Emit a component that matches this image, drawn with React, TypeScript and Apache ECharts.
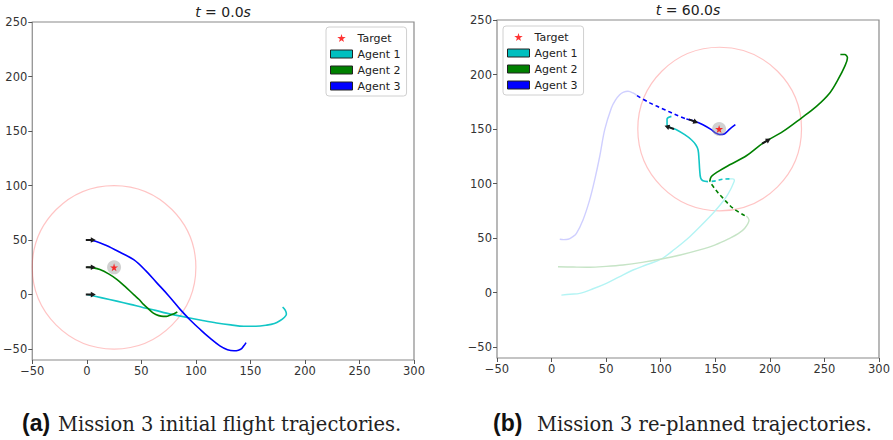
import React, { useEffect, useRef } from 'react';
import * as echarts from 'echarts';

// ---------- data ----------
const X_TICKS = [-50, 0, 50, 100, 150, 200, 250, 300];
const Y_TICKS = [-50, 0, 50, 100, 150, 200, 250];
const LEGEND_NAMES = ['Target', 'Agent 1', 'Agent 2', 'Agent 3'];
const TITLES = ['0.0', '60.0'];
const CAPTION_TAGS = ['(a)', '(b)'];
const CAPTIONS = ['Mission 3 initial flight trajectories.', 'Mission 3 re-planned trajectories.'];

// panel (a)
const TARGET_A = [[25, 25]];
const RANGE_A = [[25, 25, 75]];
const AGENT1_A = [[0, 0], [14, -3], [27.5, -6], [40, -9], [52, -12], [63, -14.5], [73, -17], [92, -21], [105, -23.5], [119, -26], [132, -27.8], [144, -29], [155, -29], [165, -28], [172, -26.5], [177, -24], [181, -21], [183, -18], [182.5, -15.5], [181, -13], [179.5, -11.5]];
const AGENT2_A = [[0, 25], [6, 24.5], [12, 23], [20, 19], [27.5, 14], [35, 7.5], [43, 0], [48, -4.5], [52, -9], [57, -13.5], [61, -17], [66, -19.3], [70, -20], [73, -20], [76, -19], [80, -17.5], [83, -16]];
const AGENT3_A = [[0, 50], [8, 49], [18, 45], [30, 39], [43, 32], [54, 22], [64, 11], [75, -1], [86, -14], [95, -23.5], [104, -32], [113, -40], [122, -47], [129, -50.5], [135, -51.5], [139, -51], [142, -49.5], [144, -47], [146, -44]];
const ARROWS_A = [[0, 0, 8, 0], [0, 25, 8, 25], [0, 50, 8, 50]];

// panel (b)
const TARGET_B = [[153.5, 150]];
const RANGE_B = [[154, 150, 75]];
const AGENT1_B_PAST = [[9, -2.3], [17, -1.5], [25.8, -0.7], [38, 3.5], [50.2, 8.5], [62, 14.5], [74.6, 20.7], [87, 25.5], [100.6, 30.8], [113, 40], [126.6, 51.3], [137, 61.5], [147.9, 72.8], [155, 81], [160.2, 88], [164, 94.5], [166.5, 100], [167.5, 103], [166, 104.3], [163, 104.3]];
const AGENT1_B_PLAN = [[163, 104.3], [157, 104], [150.6, 102.5], [145, 101.8]];
const AGENT1_B_NOW = [[143.3, 101.8], [138.7, 102.5], [136.6, 105], [135.7, 112.6], [135.1, 121.8], [134.2, 131], [132.1, 135.6], [128.1, 140.2], [122, 144.8], [114.4, 149.4], [109.8, 150.9], [105.8, 154], [105.8, 159.2], [109.8, 161.6]];
const AGENT2_B_PAST = [[5.9, 23.7], [20, 23.4], [34.9, 23.2], [50, 24], [65.4, 25.3], [83, 27.7], [100.6, 30.8], [118, 34.5], [135.7, 39.1], [150, 43.8], [163.2, 49.8], [171, 54], [177, 59], [180.9, 66.6], [178.5, 70.3]];
const AGENT2_B_PLAN = [[177, 70.6], [166.2, 77.4], [157, 86.6], [150.5, 94], [144.9, 101.8]];
const AGENT2_B_NOW = [[144.9, 101.8], [146.4, 106.4], [152.5, 111], [163.2, 117.2], [178.5, 125.5], [193.7, 137.1], [212.1, 147.8], [228.9, 160.1], [242.7, 170.8], [254.9, 183.1], [262.4, 195.3], [268.6, 207.5], [271.1, 215.3], [268.6, 218.3], [264.6, 218.3]];
const AGENT3_B_PAST = [[7.5, 48.9], [11, 48.6], [15.1, 48.9], [19, 51], [22.8, 54.4], [28.8, 66.6], [34.9, 85], [39.5, 103.4], [44.1, 124.8], [48.7, 149.4], [54.8, 169.3], [58.5, 176.5], [62.4, 181.5], [66, 183.8], [70, 184.6], [74.6, 183.1], [78.3, 180.6]];
const AGENT3_B_PLAN = [[78.3, 180.6], [90, 174], [103.7, 167.7], [114, 163], [123.5, 159.2]];
const AGENT3_B_NOW = [[123.5, 159.2], [130, 157.5], [138.7, 154], [146.4, 149.4], [150, 146.5], [154, 145], [158.6, 145.7], [163.2, 150], [168.4, 154]];
const ARROWS_B = [[126.6, 158.5, 138.7, 154], [111.3, 150.3, 105.8, 152.2], [193.7, 137.1, 212.1, 147.8]];

// ---------- styles ----------
const C1 = '#12C6C6';
const C1_LEG = '#00BFBF';
const C2 = '#008000';
const C3 = '#0000FF';
const C1_FADE = '#b4f4f4';
const C2_FADE = '#c6e4c6';
const C3_FADE = '#cfcfff';
const STAR = 'path://M50,0 L61,35 L98,35 L68,57 L79,91 L50,70 L21,91 L32,57 L2,35 L39,35 Z';
const FONT = 'DejaVu Sans';

const GRIDS = [
  { left: 32, top: 22, width: 382, height: 338 },
  { left: 497, top: 20, width: 382, height: 338 },
];

function minusFmt(v: number) {
  return String(v).replace('-', '\u2212');
}

function circleItem(params: any, api: any) {
  const c = api.coord([api.value(0), api.value(1)]);
  const s = api.size([api.value(2), api.value(2)]);
  return {
    type: 'ellipse',
    shape: { cx: c[0], cy: c[1], rx: s[0], ry: s[1] },
    style: { fill: 'none', stroke: 'rgba(255,60,60,0.3)', lineWidth: 1.2 },
  };
}

function arrowItem(params: any, api: any) {
  const p = api.coord([api.value(0), api.value(1)]);
  const q = api.coord([api.value(2), api.value(3)]);
  const a = Math.atan2(q[1] - p[1], q[0] - p[0]);
  const cs = Math.cos(a);
  const sn = Math.sin(a);
  const local = [[-1, -1], [4, -1], [4, -2.8], [9, 0], [4, 2.8], [4, 1], [-1, 1]];
  const pts = local.map(([u, v]) => [p[0] + u * cs - v * sn, p[1] + u * sn + v * cs]);
  return { type: 'polygon', shape: { points: pts }, style: { fill: '#1a1a1a' } };
}

function line(name: string, data: number[][], idx: number, color: string, opts: any = {}) {
  return {
    type: 'line',
    name,
    xAxisIndex: idx,
    yAxisIndex: idx,
    data,
    symbol: 'none',
    smooth: 0.35,
    lineStyle: { color, width: opts.width ?? 1.6, type: opts.dash ? [4, 3] : 'solid' },
    itemStyle: { color },
    z: opts.z ?? 3,
    silent: true,
  };
}

function targetSeries(idx: number, data: number[][]) {
  return [
    {
      type: 'scatter', name: 'halo', xAxisIndex: idx, yAxisIndex: idx, data,
      symbol: 'circle', symbolSize: 14, itemStyle: { color: 'rgba(150,150,150,0.55)' }, z: 6, silent: true,
    },
    {
      type: 'scatter', name: 'Target', xAxisIndex: idx, yAxisIndex: idx, data,
      symbol: STAR, symbolSize: 8, itemStyle: { color: '#ff0000' }, z: 7, silent: true,
    },
  ];
}

function legend(left: number, top: number) {
  return {
    orient: 'vertical',
    left,
    top,
    selectedMode: false,
    backgroundColor: '#ffffff',
    borderColor: '#d0d0d0',
    borderWidth: 1,
    borderRadius: 3,
    padding: [5, 6, 4, 4],
    itemWidth: 22,
    itemHeight: 8,
    itemGap: 4,
    textStyle: { fontFamily: FONT, fontSize: 11, color: '#222', lineHeight: 12 },
    data: [
      { name: LEGEND_NAMES[0], icon: STAR, itemStyle: { color: '#ff0000', borderWidth: 0 } },
      { name: LEGEND_NAMES[1], icon: 'rect', itemStyle: { color: C1_LEG, borderColor: '#222', borderWidth: 1 } },
      { name: LEGEND_NAMES[2], icon: 'rect', itemStyle: { color: C2, borderColor: '#222', borderWidth: 1 } },
      { name: LEGEND_NAMES[3], icon: 'rect', itemStyle: { color: C3, borderColor: '#222', borderWidth: 1 } },
    ],
  };
}

function xAxis(idx: number) {
  return {
    type: 'value', gridIndex: idx, min: -50, max: 300, interval: 50,
    axisLine: { show: false, onZero: false },
    axisTick: { show: true, inside: false, length: 4, lineStyle: { color: '#555' }, customValues: X_TICKS },
    axisLabel: { fontFamily: FONT, fontSize: 11.5, color: '#333', margin: 5, formatter: minusFmt, customValues: X_TICKS },
    splitLine: { show: false },
  };
}

function yAxis(idx: number) {
  return {
    type: 'value', gridIndex: idx, min: -60, max: 250,
    axisLine: { show: false, onZero: false },
    axisTick: { show: true, inside: false, length: 4, lineStyle: { color: '#555' }, customValues: Y_TICKS },
    axisLabel: { fontFamily: FONT, fontSize: 11.5, color: '#333', margin: 5, formatter: minusFmt, customValues: Y_TICKS },
    splitLine: { show: false },
  };
}

function titleText(cx: number, y: number, t: string) {
  return {
    type: 'text', x: cx, y, z: 10,
    style: {
      text: '{i|t} = ' + t + '{i|s}',
      font: `14px "${FONT}"`,
      fill: '#222',
      textAlign: 'center',
      textVerticalAlign: 'bottom',
      rich: { i: { fontStyle: 'italic', fontFamily: FONT, fontSize: 14, fill: '#222' } },
    },
  };
}

function caption(xTag: number, xText: number, tag: string, text: string) {
  return [
    {
      type: 'text', x: xTag, y: 434,
      style: { text: tag, font: 'bold 23px "Liberation Sans"', fill: '#111', textVerticalAlign: 'bottom' },
    },
    {
      type: 'text', x: xText, y: 434,
      style: { text, font: '19.5px "DejaVu Serif"', fill: '#222', textVerticalAlign: 'bottom' },
    },
  ];
}

export default function App() {
  const ref = useRef<HTMLDivElement>(null);
  useEffect(() => {
    if (!ref.current) return;
    const chart = echarts.init(ref.current, null, { renderer: 'svg' });
    const option: any = {
      animation: false,
      backgroundColor: '#ffffff',
      grid: GRIDS.map((g) => ({ ...g, show: true, borderColor: '#8a8a8a', borderWidth: 1.2, backgroundColor: 'transparent' })),
      xAxis: [xAxis(0), xAxis(1)],
      yAxis: [yAxis(0), yAxis(1)],
      legend: [legend(326, 27), legend(503, 26)],
      series: [
        { type: 'custom', name: 'rangeA', xAxisIndex: 0, yAxisIndex: 0, data: RANGE_A, renderItem: circleItem, z: 1, silent: true },
        { type: 'custom', name: 'rangeB', xAxisIndex: 1, yAxisIndex: 1, data: RANGE_B, renderItem: circleItem, z: 1, silent: true },
        line('Agent 1', AGENT1_A, 0, C1),
        line('Agent 2', AGENT2_A, 0, C2),
        line('Agent 3', AGENT3_A, 0, C3),
        line('Agent 1 past', AGENT1_B_PAST, 1, C1_FADE, { z: 2, width: 1.4 }),
        line('Agent 2 past', AGENT2_B_PAST, 1, C2_FADE, { z: 2, width: 1.4 }),
        line('Agent 3 past', AGENT3_B_PAST, 1, C3_FADE, { z: 2, width: 1.4 }),
        line('Agent 1', AGENT1_B_PLAN, 1, C1, { dash: true }),
        line('Agent 2', AGENT2_B_PLAN, 1, C2, { dash: true }),
        line('Agent 3', AGENT3_B_PLAN, 1, C3, { dash: true }),
        line('Agent 1', AGENT1_B_NOW, 1, C1),
        line('Agent 2', AGENT2_B_NOW, 1, C2),
        line('Agent 3', AGENT3_B_NOW, 1, C3),
        { type: 'custom', name: 'arrowsA', xAxisIndex: 0, yAxisIndex: 0, data: ARROWS_A, renderItem: arrowItem, z: 5, silent: true },
        { type: 'custom', name: 'arrowsB', xAxisIndex: 1, yAxisIndex: 1, data: ARROWS_B, renderItem: arrowItem, z: 5, silent: true },
        ...targetSeries(0, TARGET_A),
        ...targetSeries(1, TARGET_B),
      ],
      graphic: [
        titleText(223, 19, TITLES[0]),
        titleText(688, 17, TITLES[1]),
        ...caption(22, 58, CAPTION_TAGS[0], CAPTIONS[0]),
        ...caption(493, 537, CAPTION_TAGS[1], CAPTIONS[1]),
      ],
    };
    chart.setOption(option);
    return () => chart.dispose();
  }, []);
  return <div ref={ref} style={{ width: 893, height: 440, position: 'absolute', left: 0, top: 0 }} />;
}
